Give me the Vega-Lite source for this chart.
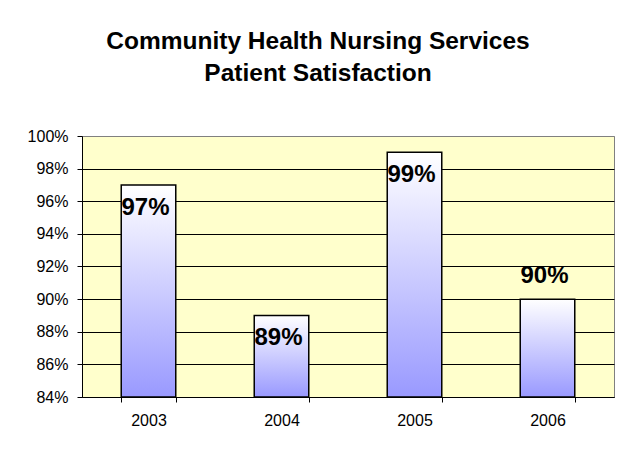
{
  "$schema": "https://vega.github.io/schema/vega-lite/v6.json",
  "width": 532,
  "height": 261,
  "autosize": {"type": "none"},
  "padding": {"left": 82, "top": 136, "right": 7, "bottom": 52},
  "background": "white",
  "title": {
    "text": ["Community Health Nursing Services", "Patient Satisfaction"],
    "font": "Liberation Sans",
    "fontSize": 24.5,
    "fontWeight": "bold",
    "lineHeight": 32,
    "color": "#000000",
    "anchor": "middle",
    "frame": "group",
    "dx": -30,
    "offset": 42
  },
  "config": {
    "view": {"fill": "#FFFFCC", "stroke": "#808080", "strokeWidth": 1}
  },
  "data": {
    "values": [
      {"year": "2003", "satisfaction": 0.97},
      {"year": "2004", "satisfaction": 0.89},
      {"year": "2005", "satisfaction": 0.99},
      {"year": "2006", "satisfaction": 0.90}
    ]
  },
  "encoding": {
    "x": {
      "field": "year",
      "type": "nominal",
      "scale": {"paddingInner": 0.59, "paddingOuter": 0.295},
      "axis": {
        "title": null,
        "labelAngle": 0,
        "labelFont": "Liberation Sans",
        "labelFontSize": 16,
        "labelColor": "#000000",
        "tickBand": "extent",
        "tickSize": 5,
        "tickColor": "#000000",
        "domainColor": "#000000",
        "labelPadding": 10,
        "grid": false
      }
    },
    "y": {
      "field": "satisfaction",
      "type": "quantitative",
      "scale": {"domain": [0.84, 1.0], "zero": false, "nice": false},
      "axis": {
        "title": null,
        "values": [0.84, 0.86, 0.88, 0.9, 0.92, 0.94, 0.96, 0.98, 1.0],
        "format": ".0%",
        "labelFont": "Liberation Sans",
        "labelFontSize": 16,
        "labelColor": "#000000",
        "tickSize": 5,
        "tickColor": "#000000",
        "domainColor": "#000000",
        "labelPadding": 9,
        "grid": true,
        "gridColor": {"condition": {"test": "datum.value > 0.995", "value": "#808080"}, "value": "#000000"},
        "gridOpacity": 1,
        "gridWidth": 1
      }
    }
  },
  "layer": [
    {
      "mark": {
        "type": "bar",
        "fill": {
          "gradient": "linear",
          "x1": 0, "y1": 0, "x2": 0, "y2": 1,
          "stops": [
            {"offset": 0, "color": "#FFFFFF"},
            {"offset": 1, "color": "#9999FF"}
          ]
        },
        "stroke": "#000000",
        "strokeWidth": 1.5
      },
      "encoding": {
        "y2": {"datum": 0.84}
      }
    },
    {
      "transform": [{"filter": "datum.year != '2006'"}],
      "mark": {
        "type": "text",
        "font": "Liberation Sans",
        "fontSize": 24,
        "fontWeight": "bold",
        "color": "#000000",
        "baseline": "top",
        "align": "center",
        "dy": 11,
        "dx": -3
      },
      "encoding": {
        "text": {"field": "satisfaction", "type": "quantitative", "format": ".0%"}
      }
    },
    {
      "transform": [{"filter": "datum.year == '2006'"}],
      "mark": {
        "type": "text",
        "font": "Liberation Sans",
        "fontSize": 24,
        "fontWeight": "bold",
        "color": "#000000",
        "baseline": "alphabetic",
        "align": "center",
        "dy": -16,
        "dx": -3
      },
      "encoding": {
        "text": {"field": "satisfaction", "type": "quantitative", "format": ".0%"}
      }
    }
  ]
}
